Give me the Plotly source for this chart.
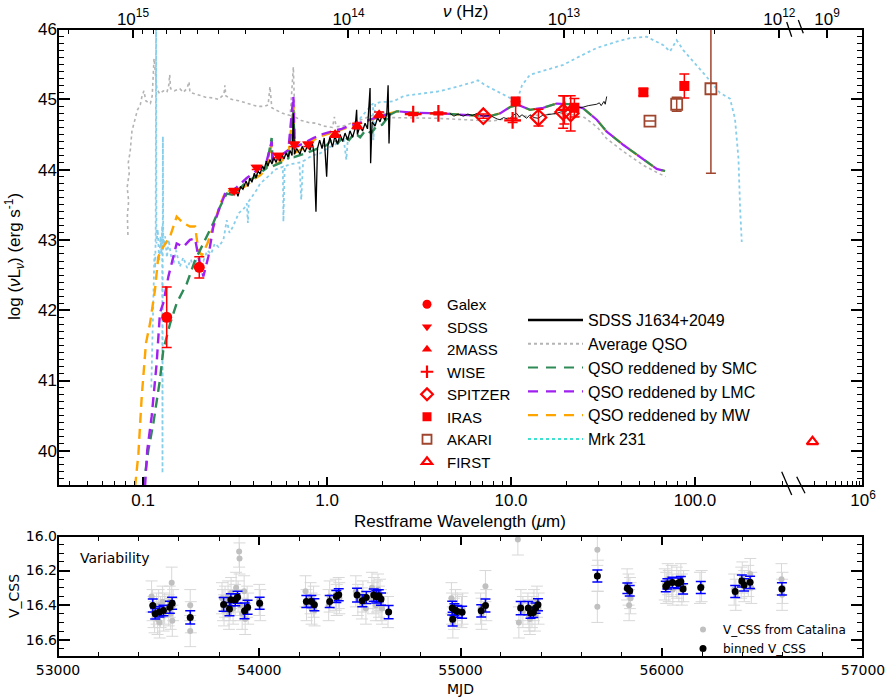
import numpy as np
import plotly.graph_objects as go

# ================= DATA (top panel: SED) =================
# (log10 rest-frame wavelength [um], log nuL_nu [erg/s])
avg_qso = [(-1.082, 43.07), (-1.085, 43.35), (-1.078, 43.55), (-1.086, 43.75), (-1.075, 43.95),
           (-1.080, 44.10), (-1.070, 44.25), (-1.065, 44.40), (-1.060, 44.55), (-1.050, 44.65),
           (-1.040, 44.75), (-1.030, 44.85), (-1.015, 44.92), (-1.005, 45.05), (-0.995, 45.12),
           (-0.985, 44.98), (-0.970, 44.95), (-0.960, 44.94), (-0.950, 45.05), (-0.945, 45.30),
           (-0.940, 45.58), (-0.932, 45.35), (-0.925, 45.15), (-0.910, 45.08), (-0.890, 45.12),
           (-0.870, 45.10), (-0.860, 45.20), (-0.855, 45.35), (-0.850, 45.15), (-0.830, 45.12),
           (-0.800, 45.15), (-0.780, 45.10), (-0.760, 45.16), (-0.750, 45.25), (-0.745, 45.10),
           (-0.720, 45.08), (-0.690, 45.05), (-0.660, 45.03), (-0.620, 45.02), (-0.590, 45.00),
           (-0.560, 45.07), (-0.555, 45.20), (-0.550, 45.05), (-0.520, 45.00), (-0.480, 44.98),
           (-0.440, 44.95), (-0.410, 44.93), (-0.380, 44.90), (-0.340, 44.90), (-0.320, 44.92),
           (-0.310, 45.18), (-0.300, 44.88), (-0.280, 44.85), (-0.240, 44.80), (-0.200, 44.77),
           (-0.183, 45.46), (-0.175, 44.75), (-0.140, 44.70), (-0.100, 44.67), (-0.060, 44.66),
           (-0.020, 44.62), (0.030, 44.60), (0.040, 44.75), (0.050, 44.61), (0.090, 44.62),
           (0.130, 44.66), (0.170, 44.70), (0.200, 44.72), (0.240, 44.76), (0.270, 44.80),
           (0.300, 44.82), (0.340, 44.74), (0.450, 44.74), (0.600, 44.73), (0.750, 44.71),
           (0.900, 44.69), (1.000, 44.74), (1.100, 44.77), (1.200, 44.79), (1.300, 44.80),
           (1.400, 44.74), (1.470, 44.60), (1.520, 44.44), (1.610, 44.26), (1.720, 44.06),
           (1.800, 43.95), (1.840, 43.90)]

mrk231 = [(-0.955, 40.90), (-0.950, 41.40), (-0.946, 41.90), (-0.942, 42.40), (-0.938, 42.80),
          (-0.934, 42.60), (-0.931, 43.10), (-0.929, 46.30), (-0.927, 42.95), (-0.920, 43.15),
          (-0.912, 42.70), (-0.905, 43.05), (-0.900, 42.80), (-0.896, 43.20), (-0.894, 39.68),
          (-0.892, 44.47), (-0.890, 42.90), (-0.880, 43.05), (-0.870, 42.75), (-0.860, 43.00),
          (-0.850, 42.80), (-0.835, 42.65), (-0.820, 42.85), (-0.800, 42.62), (-0.781, 42.75),
          (-0.760, 42.60), (-0.740, 42.72), (-0.727, 42.62), (-0.700, 42.75), (-0.672, 42.70),
          (-0.650, 42.85), (-0.630, 42.80), (-0.610, 42.95), (-0.590, 42.90), (-0.563, 43.00),
          (-0.545, 43.28), (-0.530, 43.10), (-0.509, 43.20), (-0.480, 43.38), (-0.450, 43.45),
          (-0.436, 43.52), (-0.430, 43.24), (-0.425, 43.55), (-0.409, 43.61), (-0.380, 43.72),
          (-0.364, 43.80), (-0.330, 43.88), (-0.300, 43.95), (-0.292, 43.99), (-0.240, 44.04),
          (-0.237, 43.26), (-0.230, 44.05), (-0.190, 44.08), (-0.150, 44.10), (-0.140, 43.57),
          (-0.130, 44.12), (-0.080, 44.20), (-0.038, 44.23), (0.000, 44.30), (0.053, 44.37),
          (0.090, 44.45), (0.105, 44.14), (0.115, 44.50), (0.170, 44.70), (0.220, 44.85),
          (0.250, 44.94), (0.252, 44.42), (0.262, 44.94), (0.290, 44.96), (0.360, 44.97),
          (0.420, 45.05), (0.500, 45.08), (0.600, 45.11), (0.680, 45.16), (0.741, 45.20),
          (0.790, 45.24), (0.820, 45.27), (0.860, 45.20), (0.920, 45.12), (0.977, 45.04),
          (1.031, 44.97), (1.060, 45.20), (1.103, 45.35), (1.194, 45.42), (1.284, 45.49),
          (1.380, 45.62), (1.466, 45.73), (1.574, 45.82), (1.647, 45.87), (1.737, 45.89),
          (1.790, 45.82), (1.828, 45.77), (1.864, 45.68), (1.900, 45.84), (1.936, 45.70),
          (2.009, 45.49), (2.063, 45.32), (2.136, 45.09), (2.190, 45.01), (2.217, 44.73),
          (2.236, 44.16), (2.245, 43.45), (2.254, 42.97)]

smc = [(-0.998, 39.49), (-0.971, 40.01), (-0.944, 40.39), (-0.908, 41.01), (-0.890, 41.43),
       (-0.853, 41.81), (-0.817, 42.10), (-0.762, 42.38), (-0.717, 42.71), (-0.672, 42.95),
       (-0.618, 43.24), (-0.582, 43.47), (-0.545, 43.66), (-0.509, 43.64), (-0.480, 43.72),
       (-0.436, 43.83), (-0.400, 43.88), (-0.364, 43.95), (-0.330, 44.02), (-0.301, 44.45),
       (-0.295, 44.05), (-0.250, 44.10), (-0.210, 44.16), (-0.183, 44.85), (-0.175, 44.18),
       (-0.130, 44.22), (-0.074, 44.28), (-0.030, 44.32), (0.000, 44.35), (0.030, 44.45),
       (0.060, 44.38), (0.090, 44.48), (0.120, 44.42), (0.150, 44.52), (0.180, 44.46),
       (0.210, 44.56), (0.240, 44.52), (0.270, 44.62), (0.300, 44.64), (0.342, 44.78),
       (0.379, 44.83), (0.469, 44.81), (0.614, 44.80), (0.741, 44.78), (0.886, 44.76),
       (0.940, 44.80), (0.995, 44.89), (1.040, 44.92), (1.103, 44.85), (1.176, 44.88),
       (1.248, 44.94), (1.321, 44.93), (1.393, 44.87), (1.466, 44.71), (1.520, 44.54),
       (1.611, 44.35), (1.720, 44.14), (1.792, 44.01), (1.837, 43.98)]

lmc = [(-0.989, 39.49), (-0.977, 40.01), (-0.953, 40.49), (-0.926, 41.24), (-0.908, 41.96),
       (-0.890, 42.10), (-0.862, 42.48), (-0.844, 42.67), (-0.817, 42.95), (-0.781, 42.90),
       (-0.745, 43.00), (-0.717, 43.02), (-0.699, 42.76), (-0.672, 42.48), (-0.645, 42.76),
       (-0.618, 43.19), (-0.582, 43.47), (-0.545, 43.71), (-0.509, 43.70), (-0.470, 43.80),
       (-0.436, 43.88), (-0.400, 43.95), (-0.364, 44.02), (-0.330, 44.10), (-0.301, 44.40),
       (-0.295, 44.14), (-0.250, 44.20), (-0.210, 44.28), (-0.183, 45.04), (-0.175, 44.32),
       (-0.130, 44.37), (-0.074, 44.45), (-0.030, 44.50), (0.034, 44.55), (0.080, 44.58),
       (0.120, 44.62), (0.170, 44.66), (0.220, 44.70), (0.270, 44.74), (0.310, 44.78),
       (0.342, 44.80), (0.379, 44.83), (0.469, 44.81), (0.614, 44.80), (0.741, 44.78),
       (0.886, 44.76), (0.940, 44.80), (0.995, 44.89), (1.040, 44.92), (1.103, 44.85),
       (1.176, 44.88), (1.248, 44.94), (1.321, 44.93), (1.393, 44.87), (1.466, 44.71),
       (1.520, 44.54), (1.611, 44.35), (1.720, 44.14), (1.792, 44.01), (1.837, 43.98)]

mw = [(-1.043, 39.49), (-1.025, 39.96), (-1.007, 40.77), (-0.984, 41.53), (-0.962, 41.81),
      (-0.935, 42.29), (-0.917, 42.76), (-0.890, 42.90), (-0.853, 43.05), (-0.817, 43.33),
      (-0.781, 43.24), (-0.745, 43.19), (-0.717, 43.19), (-0.699, 42.85), (-0.680, 42.78),
      (-0.650, 42.95), (-0.618, 43.19), (-0.582, 43.50), (-0.545, 43.72), (-0.509, 43.66),
      (-0.470, 43.72), (-0.436, 43.78), (-0.400, 43.86), (-0.364, 43.92), (-0.330, 44.00),
      (-0.301, 44.35), (-0.295, 44.05), (-0.250, 44.12), (-0.210, 44.20), (-0.183, 44.90),
      (-0.175, 44.24), (-0.130, 44.30), (-0.074, 44.42), (-0.030, 44.48), (0.034, 44.53),
      (0.080, 44.57), (0.120, 44.61), (0.170, 44.65), (0.220, 44.69), (0.270, 44.73),
      (0.310, 44.77), (0.342, 44.80), (0.379, 44.83), (0.469, 44.81), (0.614, 44.80),
      (0.741, 44.78), (0.886, 44.76), (0.940, 44.80), (0.995, 44.89), (1.040, 44.92),
      (1.103, 44.85), (1.176, 44.88), (1.248, 44.94), (1.321, 44.93), (1.393, 44.87),
      (1.466, 44.71), (1.520, 44.54), (1.611, 44.35), (1.720, 44.14), (1.792, 44.01),
      (1.837, 43.98)]

sdss_spec = [(-0.511, 43.66), (-0.500, 43.74), (-0.484, 43.62), (-0.470, 43.76), (-0.457, 43.72),
             (-0.440, 43.84), (-0.429, 43.76), (-0.420, 43.88), (-0.408, 43.82), (-0.395, 43.95),
             (-0.386, 43.88), (-0.375, 43.98), (-0.364, 43.94), (-0.350, 44.05), (-0.342, 44.00),
             (-0.330, 44.12), (-0.321, 44.05), (-0.310, 44.14), (-0.299, 44.08), (-0.290, 44.18),
             (-0.277, 44.10), (-0.265, 44.20), (-0.255, 44.12), (-0.245, 44.22), (-0.234, 44.15),
             (-0.222, 44.24), (-0.212, 44.18), (-0.200, 44.27), (-0.190, 44.20), (-0.183, 44.80),
             (-0.177, 44.22), (-0.165, 44.30), (-0.147, 44.22), (-0.135, 44.33), (-0.120, 44.25),
             (-0.105, 44.35), (-0.092, 44.28), (-0.080, 44.38), (-0.071, 44.24), (-0.060, 43.40),
             (-0.052, 44.30), (-0.040, 44.42), (-0.027, 44.30), (-0.015, 44.45), (-0.002, 43.90),
             (0.005, 44.34), (0.016, 44.46), (0.030, 44.32), (0.043, 44.48), (0.057, 44.36),
             (0.071, 44.50), (0.085, 44.40), (0.098, 44.52), (0.112, 44.42), (0.125, 44.55),
             (0.139, 44.46), (0.152, 44.58), (0.161, 44.85), (0.165, 44.50), (0.179, 44.62),
             (0.193, 44.55), (0.207, 44.66), (0.220, 44.58), (0.234, 45.16), (0.237, 44.09),
             (0.245, 44.68), (0.261, 44.62), (0.275, 44.74), (0.288, 44.68), (0.300, 44.78),
             (0.315, 44.70), (0.325, 44.80), (0.332, 45.20), (0.337, 44.37), (0.342, 44.80)]

irs_spec = [(0.668, 44.80), (0.690, 44.76), (0.712, 44.79), (0.741, 44.76), (0.765, 44.79),
            (0.790, 44.77), (0.815, 44.80), (0.850, 44.76), (0.886, 44.77), (0.905, 44.74),
            (0.925, 44.72), (0.940, 44.71), (0.960, 44.74), (0.980, 44.72), (0.995, 44.73),
            (1.015, 44.78), (1.031, 44.80), (1.045, 44.75), (1.060, 44.78), (1.085, 44.73),
            (1.103, 44.78), (1.125, 44.74), (1.148, 44.73), (1.170, 44.77), (1.194, 44.78),
            (1.220, 44.79), (1.248, 44.80), (1.270, 44.82), (1.300, 44.83), (1.321, 44.86),
            (1.350, 44.87), (1.375, 44.88), (1.393, 44.89), (1.420, 44.91), (1.440, 44.92),
            (1.466, 44.93), (1.480, 44.95), (1.490, 44.91), (1.505, 44.97), (1.512, 44.93),
            (1.520, 45.04)]

# photometry: wavelength [um], log nuL_nu, error
galex_wl, galex_lum, galex_err = [0.1345, 0.2022], [41.90, 42.61], [0.43, 0.15]
sdss_wl = [0.3125, 0.415, 0.544, 0.664, 0.791]
sdss_lum = [43.70, 44.03, 44.20, 44.36, 44.36]
sdss_err = [0.03, 0.03, 0.03, 0.03, 0.03]
tmass_wl, tmass_lum, tmass_err = [1.107, 1.46, 1.92], [44.50, 44.62, 44.78], [0.04, 0.04, 0.04]
wise_wl = [2.94, 4.03, 10.2, 19.5]
wise_lum = [44.79, 44.80, 44.70, 44.85]
wise_err = [0.02, 0.02, 0.03, 0.20]
spitzer_wl = [7.07, 14.1, 19.2, 21.1]
spitzer_lum = [44.76, 44.74, 44.82, 44.80]
spitzer_err = [0.03, 0.12, 0.23, 0.25]
iras_wl = [10.6, 22.1, 52.4, 87.5]
iras_lum = [44.97, 44.88, 45.10, 45.19]
iras_err_hi = [0.0, 0.13, 0.05, 0.17]
iras_err_lo = [0.27, 0.13, 0.05, 0.17]
akari_wl = [56.9, 79.5, 122.0]
akari_lum = [44.69, 44.93, 45.15]
akari_err = [0.0, 0.10, 1.20]
first_wl, first_lum = [1.9e5], [40.13]

# ================= DATA (bottom panel: variability) =================
catalina_mjd = [53465, 53470, 53475, 53480, 53490, 53495, 53500, 53505, 53510, 53520, 53525, 53530,
                53550, 53555, 53560, 53565, 53568, 53572,
                53657, 53657, 53660,
                53815, 53820, 53825, 53830, 53845, 53850, 53855, 53860, 53870, 53880, 53885, 53895,
                53900, 53902, 53905, 53915, 53925, 53930, 53940, 53945,
                54000, 54005,
                54230, 54235, 54255, 54260, 54270, 54275,
                54345, 54350, 54380, 54385, 54395, 54398,
                54480, 54490, 54510, 54515, 54530, 54560, 54565, 54570, 54580, 54585, 54590, 54595,
                54600, 54605, 54610, 54640,
                54955, 54958, 54962, 54968, 54975, 54985, 55005, 55010,
                55100, 55105, 55124, 55128,
                55285, 55290, 55300, 55310, 55335, 55340, 55345, 55355, 55365, 55370, 55380, 55388,
                55680, 55680, 55683,
                55828, 55835, 55838, 55842, 55845,
                56015, 56022, 56030, 56035, 56050, 56055, 56075, 56085, 56095, 56100, 56108,
                56190, 56198,
                56360, 56368, 56395, 56400, 56410, 56430, 56440, 56445,
                56595, 56598, 56600]
catalina_v = [16.35, 16.40, 16.44, 16.47, 16.42, 16.48, 16.40, 16.50, 16.44, 16.38, 16.46, 16.42,
              16.43, 16.38, 16.45, 16.27, 16.49, 16.40,
              16.40, 16.55, 16.47,
              16.36, 16.40, 16.43, 16.38, 16.35, 16.45, 16.40, 16.33, 16.42, 16.37, 16.30, 16.35,
              16.09, 16.13, 16.40, 16.45, 16.32, 16.48, 16.38, 16.42,
              16.37, 16.40,
              16.32, 16.40, 16.36, 16.42, 16.38, 16.43,
              16.40, 16.35, 16.34, 16.37, 16.33, 16.36,
              16.32, 16.37, 16.39, 16.35, 16.42, 16.30, 16.36, 16.33, 16.40, 16.35, 16.31, 16.38,
              16.34, 16.40, 16.42, 16.44,
              16.36, 16.42, 16.50, 16.45, 16.40, 16.43, 16.44, 16.42,
              16.42, 16.45, 16.29, 16.40,
              16.02, 16.50, 16.40, 16.44, 16.42, 16.46, 16.48, 16.44, 16.40, 16.46, 16.38, 16.42,
              16.08, 16.41, 16.23,
              16.28, 16.31, 16.40, 16.33, 16.36,
              16.28, 16.30, 16.25, 16.29, 16.26, 16.31, 16.27, 16.29, 16.25, 16.31, 16.29,
              16.30, 16.29,
              16.31, 16.34, 16.27, 16.24, 16.29, 16.26, 16.22, 16.30,
              16.25, 16.34, 16.30]
catalina_err = [0.09] * len(catalina_mjd)

binned_mjd = [53471, 53483, 53504, 53524, 53556, 53567, 53657,
              53823, 53852, 53859, 53881, 53892, 53927, 53942, 54002,
              54234, 54259, 54274, 54350, 54383, 54395,
              54486, 54512, 54532, 54569, 54582, 54594, 54605, 54643,
              54959, 54961, 54970, 54984, 55008, 55103, 55124,
              55299, 55337, 55348, 55362, 55373, 55385,
              55680, 55829, 55841, 56020, 56028, 56053, 56081, 56095, 56106,
              56194, 56365, 56398, 56409, 56439, 56597]
binned_v = [16.402, 16.450, 16.439, 16.431, 16.412, 16.389, 16.471,
            16.396, 16.423, 16.369, 16.369, 16.354, 16.433, 16.412, 16.389,
            16.379, 16.379, 16.398, 16.379, 16.350, 16.340,
            16.342, 16.375, 16.356, 16.342, 16.352, 16.346, 16.365, 16.440,
            16.417, 16.481, 16.427, 16.437, 16.441, 16.433, 16.402,
            16.417, 16.417, 16.446, 16.442, 16.417, 16.398,
            16.231, 16.302, 16.317, 16.292, 16.277, 16.269, 16.273, 16.264, 16.306,
            16.298, 16.321, 16.260, 16.283, 16.268, 16.306]
binned_err = [0.038, 0.030, 0.030, 0.030, 0.035, 0.035, 0.038,
              0.040, 0.038, 0.035, 0.035, 0.035, 0.045, 0.040, 0.035,
              0.035, 0.035, 0.035, 0.035, 0.035, 0.035,
              0.040, 0.035, 0.035, 0.035, 0.035, 0.035, 0.035, 0.038,
              0.040, 0.040, 0.035, 0.035, 0.035, 0.035, 0.038,
              0.038, 0.038, 0.030, 0.030, 0.030, 0.035,
              0.035, 0.030, 0.030, 0.030, 0.030, 0.030, 0.030, 0.030, 0.030,
              0.035, 0.035, 0.035, 0.035, 0.035, 0.035]

# tick labels
wl_tickvals = [0.1, 1.0, 10.0, 100.0]
wl_ticktext = ["0.1", "1.0", "10.0", "100.0"]
nu_tickvals = [1e15, 1e14, 1e13, 1e12]
nu_ticktext = ["10<sup>15</sup>", "10<sup>14</sup>", "10<sup>13</sup>", "10<sup>12</sup>"]

# ================= LAYOUT GEOMETRY (pixels) =================
W, H = 886, 698
PL, PR, PT, PB = 58, 863, 29, 657
TOP_BOTTOM, BOT_TOP = 486, 536
BREAK_L, BREAK_R = 785, 803
SPLIT_LOGWL = 0.342   # reddened models coincide beyond this wavelength


def fx(px):
    return (px - PL) / (PR - PL)


def fy(py):
    return (PB - py) / (PB - PT)


def split(series):
    lw = 10 ** np.array([p[0] for p in series])
    lum = np.array([p[1] for p in series])
    return lw, lum


RED = "#FF0000"
BROWN = "#A0452D"
GREEN = "#2E8B57"
PURPLE = "#A020F0"
ORANGE = "#FFA500"
SKY = "#87CEEB"
GRAY = "#B4B4B4"

fig = go.Figure()

# ---- curves ----
x, y = split(avg_qso)
fig.add_trace(go.Scatter(x=x, y=y, mode="lines", line=dict(color=GRAY, width=1.6, dash="dot"),
                         showlegend=False, hoverinfo="skip"))
x, y = split(mrk231)
fig.add_trace(go.Scatter(x=x, y=y, mode="lines", line=dict(color=SKY, width=1.8, dash="dot"),
                         showlegend=False, hoverinfo="skip"))

# reddened QSO models: UV/optical part (distinct) and IR part (shared, alternating dashes)
red_models = [(mw, ORANGE, "10px,6px", "10px,10px"),
              (smc, GREEN, "10px,6px", "10px,10px"),
              (lmc, PURPLE, "10px,6px", "0px,10px,10px,0px")]
for ser, col, dash_uv, dash_ir in red_models:
    x, y = split(ser)
    uv = np.log10(x) <= SPLIT_LOGWL + 1e-9
    ir = np.log10(x) >= SPLIT_LOGWL - 1e-9
    fig.add_trace(go.Scatter(x=x[uv], y=y[uv], mode="lines", line=dict(color=col, width=2.4, dash=dash_uv),
                             showlegend=False, hoverinfo="skip"))
    fig.add_trace(go.Scatter(x=x[ir], y=y[ir], mode="lines", line=dict(color=col, width=2.2, dash=dash_ir),
                             showlegend=False, hoverinfo="skip"))

x, y = split(sdss_spec)
fig.add_trace(go.Scatter(x=x, y=y, mode="lines", line=dict(color="black", width=1.3),
                         showlegend=False, hoverinfo="skip"))
x, y = split(irs_spec)
fig.add_trace(go.Scatter(x=x, y=y, mode="lines", line=dict(color="black", width=0.9),
                         showlegend=False, hoverinfo="skip"))


def phot(xv, yv, err, symbol, color, size, lw=0, errlo=None):
    ey = dict(type="data", array=err, color=color, thickness=1.5, width=5, visible=True)
    if errlo is not None:
        ey["symmetric"] = False
        ey["arrayminus"] = errlo
    mk = dict(symbol=symbol, color=color, size=size)
    if lw:
        mk["line"] = dict(color=color, width=lw)
    return go.Scatter(x=xv, y=yv, mode="markers", marker=mk, error_y=ey,
                      showlegend=False, hoverinfo="skip")


fig.add_trace(phot(galex_wl, galex_lum, galex_err, "circle", RED, 11))
fig.add_trace(phot(sdss_wl, sdss_lum, sdss_err, "triangle-down", RED, 11))
fig.add_trace(phot(tmass_wl, tmass_lum, tmass_err, "triangle-up", RED, 11))
fig.add_trace(phot(wise_wl, wise_lum, wise_err, "cross-thin", RED, 12, lw=2.2))
fig.add_trace(phot(spitzer_wl, spitzer_lum, spitzer_err, "diamond-open", RED, 12, lw=2.2))
fig.add_trace(phot(iras_wl, iras_lum, iras_err_hi, "square", RED, 10, errlo=iras_err_lo))
fig.add_trace(phot(akari_wl, akari_lum, akari_err, "square-open", BROWN, 11, lw=1.8))
fig.add_trace(go.Scatter(x=first_wl, y=first_lum, mode="markers", xaxis="x3", yaxis="y",
                         marker=dict(symbol="triangle-up-open", color=RED, size=10,
                                     line=dict(color=RED, width=2.2)),
                         showlegend=False, hoverinfo="skip"))

# invisible helpers so overlay axes render
fig.add_trace(go.Scatter(x=[None], y=[None], xaxis="x2", yaxis="y", showlegend=False))
fig.add_trace(go.Scatter(x=[None], y=[None], xaxis="x4", yaxis="y", showlegend=False))
fig.add_trace(go.Scatter(x=[None], y=[None], xaxis="x3", yaxis="y2", showlegend=False))

# ---- legend entries (markers) ----
leg_markers = [("Galex", "circle", RED, 0), ("SDSS", "triangle-down", RED, 0),
               ("2MASS", "triangle-up", RED, 0), ("WISE", "cross-thin", RED, 2.2),
               ("SPITZER", "diamond-open", RED, 2.2), ("IRAS", "square", RED, 0),
               ("AKARI", "square-open", BROWN, 1.8), ("FIRST", "triangle-up-open", RED, 2.2)]
for name, sym, col, lw in leg_markers:
    mk = dict(symbol=sym, color=col, size=9)
    if lw:
        mk["line"] = dict(color=col, width=lw)
    fig.add_trace(go.Scatter(x=[None], y=[None], mode="markers", marker=mk, name=name,
                             legend="legend", legendgroup=name))

leg_lines = [("SDSS J1634+2049", "black", "solid", 2.5), ("Average QSO", GRAY, "dot", 2),
             ("QSO reddened by SMC", GREEN, "10px,8px", 2.2), ("QSO reddened by LMC", PURPLE, "10px,8px", 2.2),
             ("QSO reddened by MW", ORANGE, "10px,8px", 2.2), ("Mrk 231", "#40E0D0", "dot", 2)]
for name, col, dash, lw in leg_lines:
    fig.add_trace(go.Scatter(x=[None], y=[None], mode="lines", line=dict(color=col, dash=dash, width=lw),
                             name=name, legend="legend2", legendgroup=name))

# ---- bottom panel ----
fig.add_trace(go.Scatter(x=catalina_mjd, y=catalina_v, mode="markers", xaxis="x5", yaxis="y3",
                         marker=dict(color="#C0C0C0", size=6),
                         error_y=dict(type="data", array=catalina_err, color="#D8D8D8", thickness=1, width=6),
                         name="V_CSS from Catalina", legend="legend3", legendgroup="a"))
fig.add_trace(go.Scatter(x=binned_mjd, y=binned_v, mode="markers", xaxis="x5", yaxis="y3",
                         marker=dict(color="black", size=7),
                         error_y=dict(type="data", array=binned_err, color="#0000FF", thickness=1.5, width=5),
                         name="binned V_CSS", legend="legend3", legendgroup="b"))

# ================= AXES =================
tickfont = dict(family="Liberation Sans, Arial", size=17, color="black")
minor_wl = [v * m for v in [0.01, 0.1, 1, 10, 100] for m in range(2, 10)]
minor_wl = [v for v in minor_wl if 0.035 < v < 305]
minor_nu = [v * m for v in [1e12, 1e13, 1e14, 1e15] for m in range(2, 10)]
minor_nu = [v for v in minor_nu if 9.5e11 < v < 2.2e15]

ax_common = dict(showgrid=False, zeroline=False, showline=False, ticks="inside",
                 tickcolor="black", tickwidth=1.6, tickfont=tickfont, automargin=False)

top_dom = [fy(TOP_BOTTOM), 1]
bot_dom = [0, fy(BOT_TOP)]
bot_font = dict(family="DejaVu Sans", size=14, color="black")
ax_bot = {k: v for k, v in ax_common.items() if k != "tickfont"}

fig.update_layout(
    xaxis=dict(**ax_common, domain=[0, fx(BREAK_L)], type="log", range=[-1.462, 2.489], anchor="y",
               tickmode="array", tickvals=wl_tickvals, ticktext=wl_ticktext, ticklen=9,
               ticklabelstandoff=2,
               minor=dict(tickmode="array", tickvals=minor_wl, ticks="inside", ticklen=5,
                          tickcolor="black", tickwidth=1.4)),
    xaxis2=dict(**ax_common, overlaying="x", side="top", type="log", range=[15.348, 11.974], anchor="y",
                tickmode="array", tickvals=nu_tickvals, ticktext=nu_ticktext, ticklen=9,
                ticklabelstandoff=0,
                minor=dict(tickmode="array", tickvals=minor_nu, ticks="inside", ticklen=5,
                           tickcolor="black", tickwidth=1.4)),
    xaxis3=dict(**ax_common, domain=[fx(BREAK_R), 1], type="log", range=[5.143, 6.0], anchor="y",
                tickmode="array", tickvals=[1e6], ticktext=["10<sup>6</sup>"], ticklen=9,
                ticklabelstandoff=2,
                minor=dict(tickmode="array", tickvals=[m * 1e5 for m in range(2, 10)], ticks="inside",
                           ticklen=5, tickcolor="black", tickwidth=1.4)),
    xaxis4=dict(**ax_common, overlaying="x3", side="top", type="log", range=[9.343, 8.486], anchor="y",
                tickmode="array", tickvals=[1e9], ticktext=["10<sup>9</sup>"], ticklen=9,
                ticklabelstandoff=0),
    yaxis=dict(**ax_common, domain=top_dom, range=[39.5, 46], anchor="x",
               tickmode="array", tickvals=[40, 41, 42, 43, 44, 45, 46], ticklen=12,
               minor=dict(dtick=0.1, tick0=40, ticks="inside", ticklen=6, tickcolor="black", tickwidth=1.4)),
    yaxis2=dict(**ax_common, overlaying="y", side="right", range=[39.5, 46], anchor="x3",
                showticklabels=False, tickmode="array", tickvals=[40, 41, 42, 43, 44, 45, 46], ticklen=12,
                minor=dict(dtick=0.1, tick0=40, ticks="inside", ticklen=6, tickcolor="black", tickwidth=1.4)),
    xaxis5=dict(**ax_bot, tickfont=bot_font,
                domain=[0, 1], range=[53000, 57000], anchor="y3", mirror="ticks",
                tickmode="linear", tick0=53000, dtick=1000, ticklen=9, tickformat="d",
                ticklabelstandoff=3,
                minor=dict(dtick=200, ticks="inside", ticklen=5, tickcolor="black", tickwidth=1.4)),
    yaxis3=dict(**ax_bot, tickfont=bot_font,
                domain=bot_dom, range=[16.7, 16.0], anchor="x5", mirror="ticks",
                tickmode="array", tickvals=[16.0, 16.2, 16.4, 16.6], ticktext=["16.0", "16.2", "16.4", "16.6"],
                ticklen=12,
                minor=dict(dtick=0.05, tick0=16.0, ticks="inside", ticklen=6, tickcolor="black", tickwidth=1.4)),
)

# ================= LEGENDS =================
fig.update_layout(
    legend=dict(x=fx(407), y=fy(288), xanchor="left", yanchor="top", bgcolor="rgba(0,0,0,0)",
                font=dict(family="Liberation Sans, Arial", size=15, color="black"),
                tracegroupgap=0, itemwidth=30, traceorder="grouped"),
    legend2=dict(x=fx(523), y=fy(303), xanchor="left", yanchor="top", bgcolor="rgba(0,0,0,0)",
                 font=dict(family="Liberation Sans, Arial", size=16, color="black"),
                 tracegroupgap=0, itemwidth=55, traceorder="grouped"),
    legend3=dict(x=fx(683), y=fy(615), xanchor="left", yanchor="top", bgcolor="rgba(0,0,0,0)",
                 font=dict(family="DejaVu Sans", size=12, color="black"),
                 tracegroupgap=0, itemwidth=30, traceorder="grouped"),
)

# ================= FRAMES, BREAK MARKS, ANNOTATIONS =================
shapes = [
    dict(type="rect", xref="paper", yref="paper", x0=0, x1=1, y0=top_dom[0], y1=1,
         line=dict(color="black", width=2)),
    dict(type="rect", xref="paper", yref="paper", x0=0, x1=1, y0=0, y1=bot_dom[1],
         line=dict(color="black", width=2)),
]
for (x0, y0, x1, y1) in [(781.7, 471.7, 791.7, 495), (796.7, 476.7, 805, 493.3),
                         (786.7, 22, 791.7, 36.7), (798.3, 20, 803.3, 33.3)]:
    shapes.append(dict(type="line", xref="paper", yref="paper", x0=fx(x0), y0=fy(y0), x1=fx(x1), y1=fy(y1),
                       line=dict(color="black", width=1.3)))

annotations = [
    dict(text="Restframe Wavelength (<i>μ</i>m)", x=fx(460), y=fy(521), xref="paper", yref="paper",
         showarrow=False, font=dict(family="Liberation Sans, Arial", size=17), xanchor="center", yanchor="middle"),
    dict(text="<i>ν</i> (Hz)", x=fx(465), y=fy(12), xref="paper", yref="paper",
         showarrow=False, font=dict(family="Liberation Sans, Arial", size=17), xanchor="center", yanchor="middle"),
    dict(text="log (<i>ν</i>L<sub><i>ν</i></sub>) (erg s<sup>-1</sup>)", x=fx(14), y=fy(257), xref="paper",
         yref="paper", showarrow=False, textangle=-90,
         font=dict(family="Liberation Sans, Arial", size=17), xanchor="center", yanchor="middle"),
    dict(text="Variability", x=fx(78), y=fy(558), xref="paper", yref="paper", showarrow=False,
         font=dict(family="DejaVu Sans", size=14), xanchor="left", yanchor="middle"),
    dict(text="MJD", x=fx(460), y=fy(689), xref="paper", yref="paper", showarrow=False,
         font=dict(family="DejaVu Sans", size=14), xanchor="center", yanchor="middle"),
    dict(text="V_CSS", x=fx(14), y=fy(596), xref="paper", yref="paper", showarrow=False, textangle=-90,
         font=dict(family="DejaVu Sans", size=14), xanchor="center", yanchor="middle"),
]

fig.update_layout(
    width=W, height=H,
    margin=dict(l=PL, r=W - PR, t=PT, b=H - PB, pad=0, autoexpand=False),
    paper_bgcolor="white", plot_bgcolor="white",
    font=dict(family="Liberation Sans, Arial", size=17, color="black"),
    shapes=shapes, annotations=annotations,
    showlegend=True,
)

fig.write_html("out.html", config={"displayModeBar": False},
               post_script="document.body.style.margin='0';")
